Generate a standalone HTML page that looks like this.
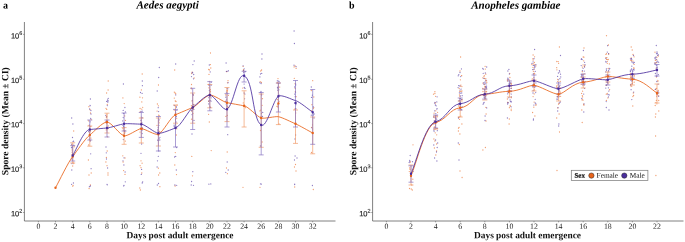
<!DOCTYPE html>
<html><head><meta charset="utf-8"><title>Spore density</title>
<style>html,body{margin:0;padding:0;background:#fff}svg{display:block;will-change:transform}</style></head>
<body><svg width="685" height="242" viewBox="0 0 685 242">
<rect width="685" height="242" fill="#fff"/>
<path d="M24.4,22 V221 H335.5" fill="none" stroke="#555" stroke-width="0.75"/>
<text transform="rotate(0.03 19.3 216.3)" x="19.3" y="216.3" text-anchor="end" font-family="Liberation Sans, sans-serif" font-size="7.5" fill="#1c1c1c" stroke="#1c1c1c" stroke-width="0.15">10</text>
<text transform="rotate(0.03 19.2 212.7)" x="19.2" y="212.7" font-family="Liberation Sans, sans-serif" font-size="5.5" fill="#1c1c1c" stroke="#1c1c1c" stroke-width="0.1">2</text>
<text transform="rotate(0.03 19.3 171.8)" x="19.3" y="171.8" text-anchor="end" font-family="Liberation Sans, sans-serif" font-size="7.5" fill="#1c1c1c" stroke="#1c1c1c" stroke-width="0.15">10</text>
<text transform="rotate(0.03 19.2 168.2)" x="19.2" y="168.2" font-family="Liberation Sans, sans-serif" font-size="5.5" fill="#1c1c1c" stroke="#1c1c1c" stroke-width="0.1">3</text>
<text transform="rotate(0.03 19.3 127.2)" x="19.3" y="127.2" text-anchor="end" font-family="Liberation Sans, sans-serif" font-size="7.5" fill="#1c1c1c" stroke="#1c1c1c" stroke-width="0.15">10</text>
<text transform="rotate(0.03 19.2 123.7)" x="19.2" y="123.7" font-family="Liberation Sans, sans-serif" font-size="5.5" fill="#1c1c1c" stroke="#1c1c1c" stroke-width="0.1">4</text>
<text transform="rotate(0.03 19.3 82.9)" x="19.3" y="82.9" text-anchor="end" font-family="Liberation Sans, sans-serif" font-size="7.5" fill="#1c1c1c" stroke="#1c1c1c" stroke-width="0.15">10</text>
<text transform="rotate(0.03 19.2 79.4)" x="19.2" y="79.4" font-family="Liberation Sans, sans-serif" font-size="5.5" fill="#1c1c1c" stroke="#1c1c1c" stroke-width="0.1">5</text>
<text transform="rotate(0.03 19.3 38.6)" x="19.3" y="38.6" text-anchor="end" font-family="Liberation Sans, sans-serif" font-size="7.5" fill="#1c1c1c" stroke="#1c1c1c" stroke-width="0.15">10</text>
<text transform="rotate(0.03 19.2 35)" x="19.2" y="35" font-family="Liberation Sans, sans-serif" font-size="5.5" fill="#1c1c1c" stroke="#1c1c1c" stroke-width="0.1">6</text>
<text transform="rotate(0.03 38.4 228.8)" x="38.4" y="228.8" text-anchor="middle" font-family="Liberation Serif, serif" font-size="7.8" fill="#1c1c1c">0</text>
<text transform="rotate(0.03 55.5 228.8)" x="55.5" y="228.8" text-anchor="middle" font-family="Liberation Serif, serif" font-size="7.8" fill="#1c1c1c">2</text>
<text transform="rotate(0.03 72.7 228.8)" x="72.7" y="228.8" text-anchor="middle" font-family="Liberation Serif, serif" font-size="7.8" fill="#1c1c1c">4</text>
<text transform="rotate(0.03 89.8 228.8)" x="89.8" y="228.8" text-anchor="middle" font-family="Liberation Serif, serif" font-size="7.8" fill="#1c1c1c">6</text>
<text transform="rotate(0.03 107.0 228.8)" x="107.0" y="228.8" text-anchor="middle" font-family="Liberation Serif, serif" font-size="7.8" fill="#1c1c1c">8</text>
<text transform="rotate(0.03 124.1 228.8)" x="124.1" y="228.8" text-anchor="middle" font-family="Liberation Serif, serif" font-size="7.8" fill="#1c1c1c">10</text>
<text transform="rotate(0.03 141.3 228.8)" x="141.3" y="228.8" text-anchor="middle" font-family="Liberation Serif, serif" font-size="7.8" fill="#1c1c1c">12</text>
<text transform="rotate(0.03 158.4 228.8)" x="158.4" y="228.8" text-anchor="middle" font-family="Liberation Serif, serif" font-size="7.8" fill="#1c1c1c">14</text>
<text transform="rotate(0.03 175.5 228.8)" x="175.5" y="228.8" text-anchor="middle" font-family="Liberation Serif, serif" font-size="7.8" fill="#1c1c1c">16</text>
<text transform="rotate(0.03 192.7 228.8)" x="192.7" y="228.8" text-anchor="middle" font-family="Liberation Serif, serif" font-size="7.8" fill="#1c1c1c">18</text>
<text transform="rotate(0.03 209.8 228.8)" x="209.8" y="228.8" text-anchor="middle" font-family="Liberation Serif, serif" font-size="7.8" fill="#1c1c1c">20</text>
<text transform="rotate(0.03 227.0 228.8)" x="227.0" y="228.8" text-anchor="middle" font-family="Liberation Serif, serif" font-size="7.8" fill="#1c1c1c">22</text>
<text transform="rotate(0.03 244.1 228.8)" x="244.1" y="228.8" text-anchor="middle" font-family="Liberation Serif, serif" font-size="7.8" fill="#1c1c1c">24</text>
<text transform="rotate(0.03 261.2 228.8)" x="261.2" y="228.8" text-anchor="middle" font-family="Liberation Serif, serif" font-size="7.8" fill="#1c1c1c">26</text>
<text transform="rotate(0.03 278.4 228.8)" x="278.4" y="228.8" text-anchor="middle" font-family="Liberation Serif, serif" font-size="7.8" fill="#1c1c1c">28</text>
<text transform="rotate(0.03 295.5 228.8)" x="295.5" y="228.8" text-anchor="middle" font-family="Liberation Serif, serif" font-size="7.8" fill="#1c1c1c">30</text>
<text transform="rotate(0.03 312.7 228.8)" x="312.7" y="228.8" text-anchor="middle" font-family="Liberation Serif, serif" font-size="7.8" fill="#1c1c1c">32</text>
<path d="M23.0,212.5H24.4M23.0,167.8H24.4M23.0,123.6H24.4M23.0,79.3H24.4M23.0,34.4H24.4M38.4,221V222.4M55.5,221V222.4M72.7,221V222.4M89.8,221V222.4M107.0,221V222.4M124.1,221V222.4M141.3,221V222.4M158.4,221V222.4M175.5,221V222.4M192.7,221V222.4M209.8,221V222.4M227.0,221V222.4M244.1,221V222.4M261.2,221V222.4M278.4,221V222.4M295.5,221V222.4M312.7,221V222.4" stroke="#555" stroke-width="0.5"/>
<path d="M372.6,22 V221 H683.5" fill="none" stroke="#555" stroke-width="0.75"/>
<text transform="rotate(0.03 367.5 216.3)" x="367.5" y="216.3" text-anchor="end" font-family="Liberation Sans, sans-serif" font-size="7.5" fill="#1c1c1c" stroke="#1c1c1c" stroke-width="0.15">10</text>
<text transform="rotate(0.03 367.4 212.7)" x="367.4" y="212.7" font-family="Liberation Sans, sans-serif" font-size="5.5" fill="#1c1c1c" stroke="#1c1c1c" stroke-width="0.1">2</text>
<text transform="rotate(0.03 367.5 171.8)" x="367.5" y="171.8" text-anchor="end" font-family="Liberation Sans, sans-serif" font-size="7.5" fill="#1c1c1c" stroke="#1c1c1c" stroke-width="0.15">10</text>
<text transform="rotate(0.03 367.4 168.2)" x="367.4" y="168.2" font-family="Liberation Sans, sans-serif" font-size="5.5" fill="#1c1c1c" stroke="#1c1c1c" stroke-width="0.1">3</text>
<text transform="rotate(0.03 367.5 127.2)" x="367.5" y="127.2" text-anchor="end" font-family="Liberation Sans, sans-serif" font-size="7.5" fill="#1c1c1c" stroke="#1c1c1c" stroke-width="0.15">10</text>
<text transform="rotate(0.03 367.4 123.7)" x="367.4" y="123.7" font-family="Liberation Sans, sans-serif" font-size="5.5" fill="#1c1c1c" stroke="#1c1c1c" stroke-width="0.1">4</text>
<text transform="rotate(0.03 367.5 82.9)" x="367.5" y="82.9" text-anchor="end" font-family="Liberation Sans, sans-serif" font-size="7.5" fill="#1c1c1c" stroke="#1c1c1c" stroke-width="0.15">10</text>
<text transform="rotate(0.03 367.4 79.4)" x="367.4" y="79.4" font-family="Liberation Sans, sans-serif" font-size="5.5" fill="#1c1c1c" stroke="#1c1c1c" stroke-width="0.1">5</text>
<text transform="rotate(0.03 367.5 38.6)" x="367.5" y="38.6" text-anchor="end" font-family="Liberation Sans, sans-serif" font-size="7.5" fill="#1c1c1c" stroke="#1c1c1c" stroke-width="0.15">10</text>
<text transform="rotate(0.03 367.4 35)" x="367.4" y="35" font-family="Liberation Sans, sans-serif" font-size="5.5" fill="#1c1c1c" stroke="#1c1c1c" stroke-width="0.1">6</text>
<text transform="rotate(0.03 386.4 228.8)" x="386.4" y="228.8" text-anchor="middle" font-family="Liberation Serif, serif" font-size="7.8" fill="#1c1c1c">0</text>
<text transform="rotate(0.03 411.0 228.8)" x="411.0" y="228.8" text-anchor="middle" font-family="Liberation Serif, serif" font-size="7.8" fill="#1c1c1c">2</text>
<text transform="rotate(0.03 435.6 228.8)" x="435.6" y="228.8" text-anchor="middle" font-family="Liberation Serif, serif" font-size="7.8" fill="#1c1c1c">4</text>
<text transform="rotate(0.03 460.2 228.8)" x="460.2" y="228.8" text-anchor="middle" font-family="Liberation Serif, serif" font-size="7.8" fill="#1c1c1c">6</text>
<text transform="rotate(0.03 484.8 228.8)" x="484.8" y="228.8" text-anchor="middle" font-family="Liberation Serif, serif" font-size="7.8" fill="#1c1c1c">8</text>
<text transform="rotate(0.03 509.4 228.8)" x="509.4" y="228.8" text-anchor="middle" font-family="Liberation Serif, serif" font-size="7.8" fill="#1c1c1c">10</text>
<text transform="rotate(0.03 534.0 228.8)" x="534.0" y="228.8" text-anchor="middle" font-family="Liberation Serif, serif" font-size="7.8" fill="#1c1c1c">12</text>
<text transform="rotate(0.03 558.6 228.8)" x="558.6" y="228.8" text-anchor="middle" font-family="Liberation Serif, serif" font-size="7.8" fill="#1c1c1c">14</text>
<text transform="rotate(0.03 583.2 228.8)" x="583.2" y="228.8" text-anchor="middle" font-family="Liberation Serif, serif" font-size="7.8" fill="#1c1c1c">16</text>
<text transform="rotate(0.03 607.8 228.8)" x="607.8" y="228.8" text-anchor="middle" font-family="Liberation Serif, serif" font-size="7.8" fill="#1c1c1c">18</text>
<text transform="rotate(0.03 632.4 228.8)" x="632.4" y="228.8" text-anchor="middle" font-family="Liberation Serif, serif" font-size="7.8" fill="#1c1c1c">20</text>
<text transform="rotate(0.03 657.0 228.8)" x="657.0" y="228.8" text-anchor="middle" font-family="Liberation Serif, serif" font-size="7.8" fill="#1c1c1c">22</text>
<path d="M371.20000000000005,212.5H372.6M371.20000000000005,167.8H372.6M371.20000000000005,123.6H372.6M371.20000000000005,79.3H372.6M371.20000000000005,34.4H372.6M386.4,221V222.4M411.0,221V222.4M435.6,221V222.4M460.2,221V222.4M484.8,221V222.4M509.4,221V222.4M534.0,221V222.4M558.6,221V222.4M583.2,221V222.4M607.8,221V222.4M632.4,221V222.4M657.0,221V222.4" stroke="#555" stroke-width="0.5"/>
<text transform="rotate(0.03 3 8.4)" x="3" y="8.4" font-family="Liberation Serif, serif" font-weight="bold" font-size="10" fill="#000">a</text>
<text transform="rotate(0.03 349 8.4)" x="349" y="8.4" font-family="Liberation Serif, serif" font-weight="bold" font-size="10" fill="#000">b</text>
<text transform="rotate(0.03 167.6 8.6)" x="167.6" y="8.6" text-anchor="middle" font-family="Liberation Serif, serif" font-weight="bold" font-style="italic" font-size="11.05" fill="#000">Aedes aegypti</text>
<text transform="rotate(0.03 515.8 8.8)" x="515.8" y="8.8" text-anchor="middle" font-family="Liberation Serif, serif" font-weight="bold" font-style="italic" font-size="11.05" fill="#000">Anopheles gambiae</text>
<text transform="rotate(0.03 180 238.3)" x="180" y="238.3" text-anchor="middle" font-family="Liberation Serif, serif" font-weight="bold" font-size="9.4" fill="#111">Days post adult emergence</text>
<text transform="rotate(0.03 527.5 238.3)" x="527.5" y="238.3" text-anchor="middle" font-family="Liberation Serif, serif" font-weight="bold" font-size="9.4" fill="#111">Days post adult emergence</text>
<text transform="translate(8.3,121.2) rotate(-90.03)" text-anchor="middle" font-family="Liberation Serif, serif" font-weight="bold" font-size="9.55" fill="#111">Spore density (Mean ± CI)</text>
<text transform="translate(356.2,121.2) rotate(-90.03)" text-anchor="middle" font-family="Liberation Serif, serif" font-weight="bold" font-size="9.55" fill="#111">Spore density (Mean ± CI)</text>
<path d="M73.7,131.0h0M72.7,166.0h0M73.1,185.5h0M72.7,186.2h0M73.2,162.1h0M72.6,153.7h0M72.0,154.7h0M74.2,146.6h0M74.2,146.8h0M73.7,163.6h0M73.3,154.4h0M72.1,152.2h0M71.9,145.0h0M72.1,150.0h0M88.6,145.0h0M88.4,160.0h0M91.2,173.0h0M89.0,175.0h0M90.4,185.0h0M89.1,188.5h0M90.8,126.5h0M90.1,140.6h0M89.2,132.6h0M88.9,106.7h0M90.5,113.0h0M88.5,120.8h0M89.0,125.3h0M90.0,109.7h0M90.9,138.1h0M90.2,131.4h0M89.2,139.2h0M91.1,119.6h0M108.2,81.0h0M108.1,90.0h0M106.6,93.0h0M107.2,151.0h0M106.4,157.5h0M105.9,162.0h0M107.0,165.7h0M108.0,173.0h0M108.0,175.0h0M107.6,136.8h0M108.3,125.9h0M106.3,129.9h0M106.0,108.3h0M106.8,116.3h0M106.3,116.9h0M106.1,122.5h0M106.7,109.4h0M107.3,104.4h0M106.9,114.8h0M106.4,123.3h0M108.0,128.6h0M122.8,155.8h0M125.0,158.0h0M123.1,162.0h0M123.6,170.6h0M125.0,174.4h0M123.0,128.5h0M123.1,134.5h0M124.2,103.6h0M124.8,132.7h0M125.1,130.6h0M124.7,115.9h0M125.4,141.1h0M124.1,127.6h0M125.5,120.4h0M122.9,97.9h0M123.3,130.1h0M124.2,132.0h0M142.2,74.0h0M141.0,160.8h0M142.1,163.2h0M140.1,165.7h0M141.0,167.7h0M141.8,173.0h0M139.8,188.0h0M140.4,190.0h0M141.8,101.9h0M142.5,97.8h0M142.7,107.3h0M140.1,112.0h0M141.3,117.2h0M142.0,128.4h0M141.3,123.0h0M141.8,109.2h0M140.3,128.4h0M140.0,132.1h0M140.1,108.5h0M139.9,97.2h0M141.4,89.9h0M158.5,85.0h0M158.4,168.2h0M159.8,173.0h0M158.6,175.0h0M159.9,186.7h0M158.8,115.3h0M159.3,115.9h0M157.1,111.1h0M158.7,115.2h0M159.2,122.8h0M157.0,125.3h0M159.7,131.4h0M157.4,133.9h0M158.3,130.8h0M157.4,104.0h0M158.4,105.8h0M158.7,121.1h0M174.7,70.0h0M175.3,152.6h0M174.8,165.0h0M176.5,174.6h0M175.1,186.0h0M176.0,101.5h0M177.0,105.2h0M175.0,115.1h0M175.7,124.2h0M176.3,135.0h0M176.8,128.8h0M175.3,101.0h0M175.1,92.9h0M174.3,92.1h0M176.7,118.3h0M174.3,98.1h0M174.3,110.0h0M175.7,93.7h0M175.5,124.9h0M191.8,156.4h0M192.5,175.8h0M192.1,72.2h0M194.1,78.0h0M191.4,88.8h0M192.1,101.0h0M191.5,119.2h0M193.1,94.6h0M193.5,107.2h0M191.7,111.1h0M191.4,105.6h0M192.6,110.0h0M192.9,113.4h0M193.9,104.5h0M191.3,88.0h0M191.5,84.5h0M191.7,73.6h0M210.5,53.0h0M209.3,122.0h0M211.2,150.6h0M210.0,107.0h0M210.5,91.3h0M209.3,81.3h0M210.8,68.0h0M208.6,101.2h0M208.7,69.5h0M208.6,114.3h0M210.4,64.6h0M210.4,89.7h0M208.9,87.8h0M209.5,69.9h0M210.8,96.0h0M210.1,92.1h0M208.6,84.4h0M209.0,74.4h0M227.2,152.0h0M226.5,168.0h0M227.4,173.7h0M225.6,94.9h0M227.5,90.3h0M225.9,116.4h0M228.3,107.6h0M227.3,91.2h0M226.9,107.9h0M226.7,71.7h0M227.3,115.4h0M227.5,82.8h0M227.7,102.3h0M227.7,106.6h0M226.9,90.5h0M228.4,95.3h0M228.0,80.7h0M243.0,187.3h0M244.7,105.9h0M245.4,107.7h0M243.9,71.3h0M242.8,88.1h0M243.3,102.9h0M243.5,69.6h0M244.7,106.5h0M243.2,70.6h0M243.1,66.3h0M243.3,106.0h0M244.6,106.2h0M260.5,130.5h0M262.1,142.0h0M260.0,187.3h0M262.5,98.7h0M261.5,113.4h0M261.4,82.4h0M262.1,105.3h0M260.5,116.8h0M260.2,81.6h0M260.7,71.0h0M259.9,110.9h0M260.7,110.1h0M261.6,70.0h0M261.3,94.2h0M279.0,124.0h0M278.0,107.1h0M277.7,104.9h0M276.9,106.3h0M277.4,99.6h0M277.7,82.6h0M278.1,83.3h0M279.7,87.1h0M279.0,101.4h0M277.7,106.8h0M278.0,78.6h0M295.5,164.5h0M294.5,167.0h0M296.0,171.0h0M294.7,187.0h0M294.3,78.3h0M295.1,66.0h0M295.3,91.7h0M294.5,109.1h0M295.8,109.0h0M296.1,96.7h0M295.7,113.0h0M296.1,68.4h0M294.1,66.9h0M295.2,88.4h0M295.1,83.7h0M311.5,152.5h0M313.3,189.5h0M311.5,127.3h0M312.5,124.9h0M313.5,108.6h0M312.6,129.1h0M311.7,110.6h0M313.8,97.0h0M313.8,107.3h0M311.3,90.5h0M311.9,104.7h0M312.7,80.7h0" fill="none" stroke="#E8641B" stroke-opacity="0.62" stroke-width="1.3" stroke-linecap="round"/>
<path d="M71.7,118.0h0M72.9,124.0h0M72.5,137.5h0M71.8,170.0h0M73.4,183.0h0M71.6,184.3h0M73.1,141.5h0M71.5,147.7h0M72.4,147.5h0M71.8,144.2h0M72.0,163.5h0M74.1,154.7h0M73.6,141.2h0M72.1,146.8h0M73.8,145.2h0M71.8,158.9h0M90.4,99.0h0M90.7,153.8h0M91.1,168.7h0M89.4,186.7h0M90.4,186.0h0M91.0,114.0h0M90.9,110.5h0M89.6,108.9h0M90.7,118.5h0M90.9,129.6h0M90.0,105.3h0M90.2,105.7h0M89.5,125.1h0M90.1,121.8h0M90.2,141.0h0M88.6,131.3h0M90.2,130.1h0M106.0,147.0h0M106.3,152.8h0M106.5,159.0h0M107.6,168.0h0M107.0,184.3h0M107.3,184.8h0M107.7,100.8h0M106.6,101.4h0M107.8,102.2h0M108.2,128.1h0M105.7,115.3h0M108.3,100.8h0M107.6,99.8h0M105.9,121.9h0M106.8,120.8h0M107.3,105.6h0M108.2,98.4h0M106.6,117.0h0M123.4,84.0h0M124.0,157.8h0M123.0,160.8h0M123.9,165.0h0M125.1,172.0h0M125.3,181.8h0M124.0,185.5h0M123.6,185.9h0M123.2,110.4h0M124.5,133.7h0M125.4,111.9h0M123.0,125.4h0M124.9,107.5h0M122.7,120.9h0M123.2,117.6h0M123.3,139.6h0M124.7,131.7h0M123.6,126.5h0M123.7,113.4h0M124.5,130.9h0M142.3,81.0h0M141.6,144.0h0M141.0,153.3h0M141.6,169.4h0M141.3,174.4h0M142.7,181.8h0M142.2,183.0h0M140.5,92.5h0M142.5,127.9h0M142.0,129.4h0M142.1,133.5h0M142.2,111.2h0M141.0,111.3h0M142.4,85.7h0M142.4,117.8h0M141.8,122.7h0M142.1,93.4h0M142.0,130.6h0M141.0,120.4h0M159.3,67.5h0M158.7,77.5h0M157.2,91.0h0M158.8,151.0h0M158.3,156.3h0M157.5,160.8h0M157.1,167.0h0M158.5,183.5h0M157.3,185.0h0M158.2,107.7h0M158.9,125.3h0M158.3,127.5h0M157.7,129.9h0M158.6,111.6h0M158.2,131.4h0M159.2,119.8h0M158.5,140.6h0M159.9,137.3h0M159.8,140.0h0M159.1,138.6h0M157.6,140.2h0M175.7,64.0h0M176.5,147.5h0M175.7,156.4h0M174.6,157.0h0M176.3,170.0h0M176.7,185.3h0M174.9,185.0h0M174.1,125.2h0M175.6,119.8h0M175.7,122.8h0M175.7,94.9h0M176.9,110.3h0M176.0,122.0h0M176.4,116.7h0M174.2,126.7h0M175.7,112.9h0M176.4,107.2h0M174.3,126.5h0M174.3,105.5h0M176.2,106.6h0M176.7,126.3h0M194.2,61.0h0M192.0,134.0h0M192.8,171.7h0M191.6,181.5h0M193.5,185.3h0M191.2,185.0h0M193.6,104.9h0M193.7,74.5h0M193.6,107.2h0M191.4,110.6h0M192.0,114.6h0M193.3,95.2h0M191.5,76.6h0M192.6,72.4h0M192.6,94.1h0M194.0,120.4h0M192.9,64.6h0M193.8,109.4h0M192.1,73.0h0M193.5,78.8h0M192.4,100.3h0M210.8,183.9h0M208.9,184.2h0M211.2,85.2h0M210.2,71.9h0M208.9,97.7h0M208.6,95.6h0M209.1,85.4h0M210.0,100.4h0M210.4,107.4h0M209.3,65.0h0M211.1,97.8h0M209.4,90.5h0M209.7,96.4h0M208.7,103.9h0M211.2,82.3h0M208.7,101.1h0M211.0,101.2h0M226.1,63.0h0M227.7,134.7h0M227.2,162.0h0M228.2,170.0h0M225.8,172.3h0M227.8,88.8h0M225.8,97.2h0M227.1,88.7h0M228.3,70.6h0M225.5,101.3h0M226.2,104.1h0M226.4,71.4h0M226.4,92.1h0M225.6,101.4h0M228.1,82.7h0M227.9,71.3h0M226.7,106.0h0M226.5,99.8h0M227.2,92.9h0M244.9,94.1h0M243.8,72.4h0M245.4,71.7h0M244.1,93.0h0M243.1,65.8h0M244.3,87.5h0M244.5,75.2h0M243.7,70.4h0M244.6,98.8h0M245.0,88.4h0M244.2,68.8h0M244.1,84.1h0M262.0,54.0h0M261.9,59.0h0M260.4,146.0h0M260.5,183.9h0M261.4,184.1h0M260.5,74.0h0M261.1,83.5h0M262.5,116.4h0M260.8,92.4h0M260.8,124.3h0M262.7,112.4h0M261.6,95.0h0M259.9,82.7h0M261.0,91.4h0M261.7,73.4h0M259.9,76.9h0M279.0,83.2h0M277.7,88.1h0M279.1,95.1h0M278.9,89.8h0M277.3,80.8h0M277.5,87.4h0M277.7,90.2h0M279.0,81.4h0M278.1,87.2h0M278.0,80.9h0M294.1,31.0h0M294.4,43.5h0M295.6,135.0h0M295.0,139.0h0M295.1,156.0h0M297.0,158.0h0M294.5,160.0h0M294.6,184.5h0M294.7,184.2h0M296.1,66.7h0M294.7,87.0h0M294.0,65.2h0M295.7,85.1h0M295.2,96.7h0M294.7,94.1h0M295.5,92.2h0M296.0,102.8h0M295.7,84.1h0M295.9,104.7h0M295.7,108.6h0M312.4,185.5h0M313.1,115.7h0M312.4,95.2h0M314.0,118.0h0M314.1,114.0h0M311.3,115.2h0M313.3,106.8h0M311.5,97.4h0M311.3,87.0h0M312.0,127.8h0M313.4,114.1h0" fill="none" stroke="#4B2E9E" stroke-opacity="0.62" stroke-width="1.3" stroke-linecap="round"/>
<path d="M413.0,144.8h0M410.5,162.0h0M411.8,185.0h0M411.2,189.0h0M412.3,190.0h0M409.5,188.5h0M409.6,167.9h0M409.3,171.6h0M412.8,179.2h0M410.0,169.4h0M411.0,176.2h0M434.9,91.7h0M433.9,139.0h0M434.9,141.0h0M436.6,144.0h0M434.4,148.0h0M436.6,151.0h0M435.8,155.0h0M436.4,128.5h0M434.2,117.2h0M433.9,123.1h0M434.1,113.2h0M435.0,129.4h0M435.3,118.0h0M433.5,94.2h0M435.6,96.3h0M435.2,115.7h0M434.9,93.5h0M435.8,110.8h0M437.5,128.6h0M434.4,126.9h0M437.2,116.8h0M434.8,128.0h0M436.7,134.8h0M434.0,116.9h0M437.6,112.3h0M435.3,103.0h0M437.5,121.9h0M434.4,121.1h0M435.2,132.8h0M460.6,57.0h0M460.0,71.0h0M458.4,131.0h0M459.9,134.0h0M459.3,144.5h0M460.0,171.0h0M462.1,177.5h0M459.3,116.9h0M461.0,91.3h0M460.9,116.1h0M459.1,127.3h0M459.8,91.5h0M458.7,117.5h0M461.9,91.0h0M459.2,88.4h0M459.9,96.6h0M459.5,95.0h0M461.5,75.7h0M461.7,75.7h0M460.6,86.1h0M460.4,79.8h0M458.5,128.2h0M461.9,86.6h0M458.5,105.9h0M459.6,100.9h0M459.7,98.4h0M461.1,110.2h0M460.9,85.1h0M459.5,119.3h0M461.9,124.0h0M462.1,99.5h0M486.1,114.0h0M486.0,121.0h0M485.4,147.5h0M482.9,150.0h0M485.9,107.4h0M482.9,83.1h0M485.3,69.1h0M485.0,86.5h0M486.6,95.1h0M485.4,87.0h0M482.8,77.8h0M486.6,80.9h0M485.9,80.5h0M485.1,66.3h0M482.7,88.3h0M485.8,74.2h0M484.5,78.5h0M485.6,98.5h0M486.8,82.7h0M486.6,91.3h0M483.0,91.5h0M486.0,92.0h0M484.6,86.9h0M485.9,91.7h0M484.3,75.6h0M484.6,84.6h0M484.5,89.3h0M483.2,95.3h0M484.0,76.5h0M485.8,78.6h0M509.1,124.0h0M509.3,119.0h0M507.6,80.9h0M509.3,89.3h0M509.6,80.2h0M511.4,91.6h0M509.7,82.1h0M507.9,102.3h0M508.6,92.5h0M508.7,92.3h0M510.2,105.5h0M511.2,109.2h0M511.4,88.2h0M511.3,84.3h0M511.2,97.7h0M510.9,83.3h0M511.2,84.6h0M507.4,80.0h0M509.4,107.7h0M509.8,73.3h0M510.2,106.4h0M509.9,77.5h0M509.9,93.1h0M511.2,110.6h0M507.7,102.3h0M509.5,91.2h0M511.3,83.6h0M507.4,99.0h0M533.1,55.0h0M532.6,112.5h0M534.9,116.0h0M532.9,58.6h0M534.4,62.4h0M532.6,85.5h0M535.9,105.3h0M533.1,60.0h0M532.3,78.8h0M534.8,64.3h0M533.4,71.3h0M534.2,93.9h0M534.0,83.3h0M535.8,65.9h0M534.1,102.1h0M533.5,63.8h0M531.9,64.5h0M534.0,73.5h0M533.0,67.4h0M534.3,89.9h0M534.6,56.8h0M533.8,69.6h0M532.3,80.6h0M534.0,74.5h0M533.9,77.7h0M534.6,73.3h0M536.0,104.7h0M533.1,96.6h0M533.8,107.2h0M559.4,47.0h0M559.1,114.0h0M556.7,118.0h0M559.5,132.0h0M557.0,170.5h0M556.7,67.7h0M558.5,95.2h0M556.6,87.0h0M556.8,61.5h0M558.1,84.3h0M558.5,104.2h0M556.9,69.8h0M560.5,88.3h0M560.1,92.3h0M558.5,90.1h0M559.0,103.5h0M557.8,107.9h0M560.6,96.3h0M557.0,85.6h0M557.8,81.5h0M557.4,96.3h0M560.1,93.1h0M558.6,63.3h0M558.2,88.4h0M558.2,61.6h0M560.2,81.4h0M557.6,79.3h0M559.8,91.2h0M559.5,86.1h0M584.0,48.0h0M581.8,110.0h0M582.2,122.5h0M583.9,57.2h0M584.0,79.1h0M582.5,99.6h0M583.1,64.9h0M582.3,95.7h0M583.5,80.5h0M582.6,96.9h0M582.6,91.2h0M582.1,99.9h0M582.3,71.7h0M582.2,80.9h0M581.2,84.3h0M582.4,67.1h0M583.6,104.2h0M582.2,77.6h0M581.6,93.4h0M584.7,73.8h0M583.1,100.1h0M583.2,74.2h0M582.4,74.5h0M584.8,65.5h0M584.3,66.6h0M583.7,60.8h0M583.9,105.2h0M584.0,85.2h0M583.2,57.0h0M606.5,35.7h0M608.4,45.0h0M606.4,53.7h0M606.4,100.4h0M607.9,97.9h0M607.3,61.3h0M606.3,94.2h0M608.1,83.8h0M607.8,82.7h0M607.3,74.5h0M607.7,76.6h0M605.9,54.4h0M608.3,59.5h0M606.5,59.4h0M607.1,80.2h0M605.7,77.0h0M609.4,63.9h0M608.2,68.4h0M607.3,63.3h0M608.0,75.4h0M609.6,89.7h0M606.3,85.4h0M607.3,93.3h0M608.7,53.9h0M607.3,59.6h0M608.7,54.3h0M609.5,89.8h0M605.9,57.6h0M606.9,57.6h0M631.2,47.0h0M632.2,50.0h0M632.8,106.0h0M630.5,60.1h0M634.2,82.2h0M631.7,86.2h0M630.9,86.1h0M633.6,95.4h0M630.8,84.4h0M630.5,73.7h0M633.0,54.5h0M632.3,82.9h0M634.1,56.8h0M633.6,68.0h0M631.2,84.6h0M630.5,75.9h0M632.8,79.5h0M632.3,76.7h0M631.6,77.0h0M634.2,75.7h0M631.2,57.8h0M633.0,61.2h0M630.6,77.5h0M634.2,68.2h0M634.3,76.0h0M632.9,96.5h0M631.6,60.5h0M633.3,93.0h0M634.1,64.4h0M658.3,56.0h0M658.8,111.0h0M655.8,114.0h0M655.4,117.0h0M655.6,136.0h0M655.9,175.5h0M658.7,100.5h0M658.7,95.6h0M656.9,57.3h0M655.4,60.4h0M656.4,100.4h0M655.9,102.6h0M657.6,94.0h0M657.9,80.6h0M658.2,90.5h0M656.7,94.6h0M656.8,59.8h0M656.9,103.8h0M656.5,77.1h0M656.8,94.0h0M657.8,80.3h0M657.9,81.6h0M656.3,67.9h0M657.3,93.5h0M655.5,89.1h0M655.1,63.0h0M656.5,88.5h0M656.4,62.7h0M655.0,52.2h0M655.2,105.5h0M656.7,96.6h0M658.9,92.8h0" fill="none" stroke="#E8641B" stroke-opacity="0.62" stroke-width="1.3" stroke-linecap="round"/>
<path d="M410.2,155.5h0M409.2,162.5h0M409.7,160.5h0M410.9,175.0h0M413.1,171.6h0M409.7,161.2h0M412.5,161.7h0M435.6,140.0h0M437.7,143.0h0M433.8,145.0h0M437.2,147.5h0M436.5,152.0h0M434.6,158.0h0M436.9,161.0h0M435.4,105.0h0M435.8,117.7h0M437.1,108.7h0M434.3,120.9h0M434.7,110.8h0M436.2,105.8h0M433.8,124.0h0M435.8,118.0h0M436.8,101.9h0M435.6,122.3h0M434.5,103.1h0M436.9,115.7h0M437.1,96.8h0M436.7,119.2h0M435.8,113.6h0M437.3,130.7h0M436.8,109.0h0M434.1,131.2h0M435.0,102.5h0M433.9,130.0h0M433.7,117.0h0M435.0,121.9h0M458.3,143.0h0M459.0,160.0h0M460.0,72.5h0M460.4,95.9h0M460.0,90.1h0M461.7,99.5h0M458.5,118.0h0M461.7,93.0h0M458.8,100.9h0M462.2,95.7h0M460.3,93.2h0M459.8,86.0h0M460.7,76.6h0M461.7,92.9h0M462.1,106.9h0M459.8,100.0h0M458.1,87.6h0M458.7,103.7h0M461.5,68.9h0M461.2,109.4h0M461.1,89.1h0M458.8,74.7h0M460.3,98.4h0M458.2,75.8h0M458.6,85.6h0M459.4,92.8h0M485.1,116.0h0M485.0,120.5h0M484.1,102.4h0M483.3,69.2h0M486.7,107.9h0M485.9,87.4h0M486.1,88.7h0M483.1,104.2h0M486.0,83.9h0M483.6,82.9h0M483.5,95.7h0M484.9,83.1h0M485.3,73.0h0M483.2,73.3h0M485.9,80.1h0M485.1,81.9h0M486.5,87.7h0M486.6,86.1h0M485.6,96.1h0M484.2,97.6h0M486.7,67.0h0M485.7,97.0h0M483.9,84.3h0M486.3,87.4h0M485.8,86.4h0M483.8,78.3h0M483.7,103.0h0M482.8,68.4h0M507.4,118.0h0M509.4,74.0h0M508.9,69.4h0M507.6,93.8h0M511.1,101.3h0M507.9,71.0h0M508.2,92.4h0M511.0,82.8h0M511.3,101.9h0M511.2,91.1h0M508.7,79.9h0M511.2,106.8h0M507.9,79.2h0M510.3,83.2h0M511.3,96.8h0M508.1,79.2h0M507.9,78.2h0M510.1,100.0h0M511.0,88.4h0M510.4,101.6h0M511.3,86.2h0M509.2,83.7h0M508.9,97.7h0M507.8,102.7h0M508.4,102.8h0M511.2,94.1h0M507.6,104.0h0M534.6,49.5h0M534.0,58.7h0M533.5,119.0h0M533.4,120.0h0M532.0,63.4h0M532.6,69.6h0M535.2,102.9h0M532.9,84.9h0M534.6,81.1h0M535.2,71.4h0M534.8,66.2h0M534.1,69.0h0M533.2,87.1h0M533.0,93.0h0M532.7,86.8h0M534.6,87.3h0M534.8,67.5h0M535.9,103.8h0M533.3,73.8h0M535.8,86.6h0M535.7,92.6h0M533.1,90.7h0M535.9,64.7h0M534.5,65.7h0M535.9,82.9h0M535.2,99.3h0M533.3,65.4h0M533.1,61.8h0M534.1,85.6h0M533.9,105.1h0M560.5,55.5h0M557.7,111.0h0M558.9,124.0h0M558.7,126.0h0M558.6,79.8h0M557.2,89.2h0M559.1,96.6h0M560.3,102.0h0M559.3,102.9h0M557.7,99.1h0M559.9,78.7h0M558.3,94.2h0M557.1,96.8h0M559.0,90.7h0M558.4,73.0h0M558.7,82.3h0M560.7,76.9h0M558.9,96.3h0M560.5,74.2h0M558.0,107.7h0M559.7,71.9h0M556.8,99.1h0M557.8,87.5h0M559.4,86.8h0M559.4,70.6h0M560.0,85.2h0M558.1,97.0h0M557.6,76.4h0M583.4,50.5h0M581.5,58.7h0M583.8,112.0h0M582.2,81.2h0M584.5,82.7h0M584.1,84.8h0M584.3,71.1h0M581.3,59.4h0M581.2,65.6h0M584.5,88.4h0M581.7,80.9h0M581.9,75.9h0M581.2,77.0h0M581.8,98.5h0M583.1,68.3h0M585.1,81.7h0M582.4,70.7h0M582.2,76.0h0M584.6,62.3h0M581.9,75.5h0M583.8,84.1h0M583.7,94.1h0M585.0,64.7h0M581.3,74.6h0M583.5,78.3h0M582.7,84.9h0M584.6,67.0h0M582.2,59.6h0M584.1,103.9h0M607.6,45.7h0M608.6,53.7h0M606.3,107.5h0M609.0,110.0h0M609.8,68.3h0M606.6,82.1h0M608.3,71.7h0M606.4,84.9h0M605.8,61.3h0M607.4,80.6h0M606.5,70.3h0M608.8,91.1h0M608.1,75.8h0M608.5,96.9h0M609.8,78.0h0M605.9,80.2h0M606.1,62.2h0M605.9,58.4h0M607.6,82.3h0M609.2,94.9h0M608.6,70.3h0M608.0,94.5h0M609.3,69.0h0M607.3,52.1h0M606.2,101.6h0M608.4,87.8h0M605.8,88.1h0M606.7,85.1h0M605.8,71.9h0M606.4,68.9h0M633.5,55.5h0M631.2,58.7h0M634.0,78.2h0M631.8,99.6h0M632.3,80.5h0M631.1,89.7h0M631.5,74.2h0M632.1,77.6h0M631.5,58.6h0M633.4,63.2h0M630.4,71.7h0M633.0,62.4h0M633.7,92.1h0M631.7,61.8h0M631.1,74.5h0M630.8,80.2h0M630.6,85.0h0M633.6,69.5h0M632.8,71.6h0M630.4,70.9h0M632.2,83.5h0M632.8,76.9h0M631.6,69.0h0M630.4,58.8h0M632.1,81.4h0M631.8,59.6h0M634.4,62.3h0M631.8,66.2h0M656.3,45.5h0M657.0,52.0h0M656.5,53.7h0M656.0,57.0h0M655.1,58.7h0M656.1,69.1h0M656.2,59.4h0M655.4,73.5h0M655.0,57.7h0M656.9,53.3h0M655.0,63.0h0M658.6,62.2h0M656.4,65.2h0M656.8,76.4h0M657.1,94.9h0M655.0,63.8h0M655.3,89.4h0M658.2,93.0h0M657.2,61.2h0M657.0,62.1h0M656.3,75.9h0M658.1,84.2h0M657.0,62.2h0M658.2,54.7h0M658.4,74.6h0M658.7,96.3h0M657.9,91.5h0M657.7,55.4h0M656.8,81.5h0M657.1,67.7h0M657.3,53.5h0" fill="none" stroke="#4B2E9E" stroke-opacity="0.62" stroke-width="1.3" stroke-linecap="round"/>
<path d="M72.7,142.8V163M70.2,142.8h5M70.2,163h5M89.8,126V146.2M87.3,126h5M87.3,146.2h5M107.0,113.2V133M104.5,113.2h5M104.5,133h5M124.1,127.6V144.3M121.6,127.6h5M121.6,144.3h5M141.3,118V143M138.8,118h5M138.8,143h5M158.4,118V146M155.9,118h5M155.9,146h5M175.5,105V123.2M173.0,105h5M173.0,123.2h5M192.7,93V123.2M190.2,93h5M190.2,123.2h5M209.8,84.5V107.8M207.3,84.5h5M207.3,107.8h5M227.0,87.5V121.6M224.5,87.5h5M224.5,121.6h5M244.1,90.8V127M241.6,90.8h5M241.6,127h5M261.2,94V147.3M258.7,94h5M258.7,147.3h5M278.4,83V124.6M275.9,83h5M275.9,124.6h5M295.5,110V143.4M293.0,110h5M293.0,143.4h5M312.7,117V153.8M310.2,117h5M310.2,153.8h5" fill="none" stroke="#f09c6b" stroke-width="0.7"/>
<path d="M72.7,145.6V161M70.2,145.6h5M70.2,161h5M89.8,120V140M87.3,120h5M87.3,140h5M107.0,120V137M104.5,120h5M104.5,137h5M124.1,113V131M121.6,113h5M121.6,131h5M141.3,112.5V137.4M138.8,112.5h5M138.8,137.4h5M158.4,116.5V151M155.9,116.5h5M155.9,151h5M175.5,109.4V147M173.0,109.4h5M173.0,147h5M192.7,88.3V129.5M190.2,88.3h5M190.2,129.5h5M209.8,81.6V110.8M207.3,81.6h5M207.3,110.8h5M227.0,93.6V127M224.5,93.6h5M224.5,127h5M244.1,71.3V82M241.6,71.3h5M241.6,82h5M261.2,92.5V154.9M258.7,92.5h5M258.7,154.9h5M278.4,83V112M275.9,83h5M275.9,112h5M295.5,80.5V127M293.0,80.5h5M293.0,127h5M312.7,89.5V144.3M310.2,89.5h5M310.2,144.3h5" fill="none" stroke="#8674c2" stroke-width="0.7"/>
<path d="M411.0,165V185M408.5,165h5M408.5,185h5M435.6,116V129M433.1,116h5M433.1,129h5M460.2,101V117M457.7,101h5M457.7,117h5M484.8,89V100M482.3,89h5M482.3,100h5M509.4,86V97M506.9,86h5M506.9,97h5M534.0,80V91M531.5,80h5M531.5,91h5M558.6,88V101M556.1,88h5M556.1,101h5M583.2,77V88M580.7,77h5M580.7,88h5M607.8,72V82M605.3,72h5M605.3,82h5M632.4,74V85M629.9,74h5M629.9,85h5M657.0,84V103M654.5,84h5M654.5,103h5" fill="none" stroke="#f09c6b" stroke-width="0.7"/>
<path d="M411.0,165.8V182.2M408.5,165.8h5M408.5,182.2h5M435.6,115V128M433.1,115h5M433.1,128h5M460.2,98V110M457.7,98h5M457.7,110h5M484.8,89V99M482.3,89h5M482.3,99h5M509.4,81V91M506.9,81h5M506.9,91h5M534.0,75V86M531.5,75h5M531.5,86h5M558.6,83V94M556.1,83h5M556.1,94h5M583.2,74V84M580.7,74h5M580.7,84h5M607.8,75V85M605.3,75h5M605.3,85h5M632.4,70V79M629.9,70h5M629.9,79h5M657.0,64.5V76M654.5,64.5h5M654.5,76h5" fill="none" stroke="#8674c2" stroke-width="0.7"/>
<path d="M55.5,187.8C59.0,181.5 68.2,162.1 72.7,156.5C76.1,152.2 85.4,138.3 89.8,135.0C93.3,132.4 102.7,121.9 107.0,122.0C111.4,122.1 119.8,135.0 124.1,135.8C127.8,136.5 137.5,128.9 141.3,128.7C144.8,128.5 155.1,135.6 158.4,134.2C163.2,132.2 170.7,116.7 175.5,114.7C179.0,113.3 189.2,108.9 192.7,107.5C196.6,105.9 205.6,95.6 209.8,95.0C213.5,94.5 223.3,102.0 227.0,102.7C230.4,103.3 240.7,105.2 244.1,105.8C248.2,106.5 257.2,116.7 261.2,118.0C264.5,119.0 275.0,116.1 278.4,116.7C282.0,117.3 292.1,122.4 295.5,123.8C299.1,125.3 309.2,131.2 312.7,133.0" fill="none" stroke="#E8641B" stroke-width="0.85"/>
<path d="M55.5,187.8h0M72.7,156.5h0M89.8,135h0M107.0,122h0M124.1,135.8h0M141.3,128.7h0M158.4,134.2h0M175.5,114.7h0M192.7,107.5h0M209.8,95h0M227.0,102.7h0M244.1,105.8h0M261.2,118h0M278.4,103.4h0M295.5,123.8h0M312.7,133h0" fill="none" stroke="#E8641B" stroke-width="2.4" stroke-linecap="round"/>
<path d="M72.7,155.5C76.1,150.3 83.6,130.0 89.8,129.5C93.3,129.2 103.5,128.3 107.0,128.0C110.5,127.7 120.6,124.2 124.1,123.8C127.5,123.4 137.8,124.1 141.3,124.2C145.1,124.3 154.5,132.9 158.4,133.3C162.0,133.7 172.1,129.1 175.5,128.0C180.6,126.4 188.4,110.6 192.7,107.5C196.1,105.0 205.6,94.8 209.8,95.0C214.3,95.2 223.1,111.5 227.0,109.3C233.5,105.6 237.3,72.7 244.1,75.8C253.6,80.1 252.3,119.7 261.2,125.0C267.0,128.4 272.9,100.1 278.4,96.2C281.3,94.1 292.1,99.7 295.5,100.6C299.5,101.6 309.2,109.9 312.7,112.2" fill="none" stroke="#4B2E9E" stroke-width="0.85"/>
<path d="M72.7,155.5h0M89.8,129.5h0M107.0,128h0M124.1,123.8h0M141.3,124.2h0M158.4,133.3h0M175.5,128h0M192.7,107.5h0M209.8,95h0M227.0,109.3h0M244.1,75.8h0M261.2,125h0M278.4,96.2h0M295.5,103h0M312.7,112.2h0" fill="none" stroke="#4B2E9E" stroke-width="2.4" stroke-linecap="round"/>
<path d="M411.0,175.8C415.9,165.1 425.3,124.6 435.6,122.5C445.9,120.4 449.9,108.7 460.2,107.8C470.5,106.9 474.5,94.7 484.8,94.2C495.1,93.7 499.1,91.6 509.4,91.3C519.7,91.0 528.9,85.0 534.0,85.3C539.2,85.6 553.4,94.5 558.6,94.2C564.1,93.9 572.9,82.8 583.2,82.2C593.5,81.6 602.8,76.8 607.8,76.5C612.7,76.2 622.1,78.7 632.4,79.2C642.7,79.7 652.1,90.2 657.0,93.0" fill="none" stroke="#E8641B" stroke-width="0.85"/>
<path d="M411.0,175.8h0M435.6,122.5h0M460.2,107.8h0M484.8,94.2h0M509.4,91.3h0M534.0,85.3h0M558.6,94.2h0M583.2,82.2h0M607.8,76.5h0M632.4,79.2h0M657.0,93h0" fill="none" stroke="#E8641B" stroke-width="2.4" stroke-linecap="round"/>
<path d="M411.0,173.7C415.9,163.3 425.3,123.9 435.6,121.7C445.9,119.5 449.9,104.6 460.2,103.7C470.5,102.8 474.5,94.8 484.8,94.2C495.1,93.6 499.1,86.2 509.4,85.8C519.7,85.4 529.0,80.5 534.0,80.8C539.2,81.1 553.4,88.9 558.6,88.7C563.9,88.5 578.0,79.8 583.2,78.8C588.0,77.9 602.9,80.2 607.8,79.7C612.8,79.2 622.1,74.5 632.4,74.2C642.7,73.9 652.1,70.8 657.0,70.0" fill="none" stroke="#4B2E9E" stroke-width="0.85"/>
<path d="M411.0,173.7h0M435.6,121.7h0M460.2,103.7h0M484.8,94.2h0M509.4,85.8h0M534.0,80.8h0M558.6,88.7h0M583.2,78.8h0M607.8,79.7h0M632.4,74.2h0M657.0,70h0" fill="none" stroke="#4B2E9E" stroke-width="2.4" stroke-linecap="round"/>
<rect x="571.3" y="170.3" width="76.6" height="10.2" fill="#fff" stroke="#777" stroke-width="0.7"/>
<text transform="rotate(0.03 574.4 177.8)" x="574.4" y="177.8" font-family="Liberation Serif, serif" font-weight="bold" font-size="7" fill="#111" stroke="#111" stroke-width="0.2">Sex</text>
<circle cx="591.4" cy="175.6" r="2.65" fill="#E8641B" stroke="#222" stroke-width="0.5"/>
<text transform="rotate(0.03 596.6 177.8)" x="596.6" y="177.8" font-family="Liberation Serif, serif" font-size="7.3" fill="#111">Female</text>
<circle cx="624.3" cy="175.6" r="2.65" fill="#4B2E9E" stroke="#222" stroke-width="0.5"/>
<text transform="rotate(0.03 629.8 177.8)" x="629.8" y="177.8" font-family="Liberation Serif, serif" font-size="7.3" fill="#111">Male</text>
</svg></body></html>
